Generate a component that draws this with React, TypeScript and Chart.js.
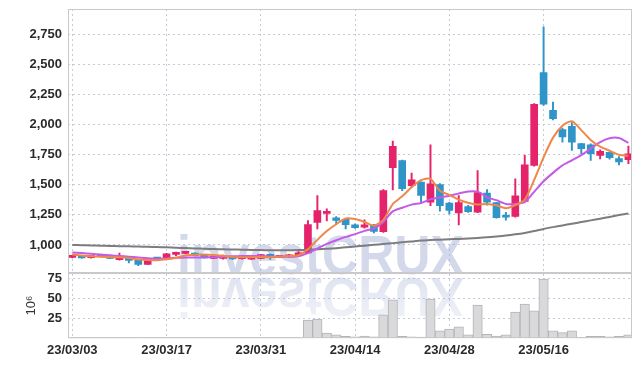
import React, { useEffect, useRef } from 'react';
import { Chart, registerables } from 'chart.js';

Chart.register(...registerables);

const dates = [
  '23/03/03','23/03/06','23/03/07','23/03/08','23/03/09','23/03/10','23/03/13','23/03/14','23/03/15','23/03/16',
  '23/03/17','23/03/20','23/03/21','23/03/22','23/03/23','23/03/24','23/03/27','23/03/28','23/03/29','23/03/30',
  '23/03/31','23/04/03','23/04/04','23/04/05','23/04/06','23/04/07','23/04/10','23/04/11','23/04/12','23/04/13',
  '23/04/14','23/04/17','23/04/18','23/04/19','23/04/20','23/04/21','23/04/24','23/04/25','23/04/26','23/04/27',
  '23/04/28','23/05/02','23/05/03','23/05/04','23/05/08','23/05/09','23/05/10','23/05/11','23/05/12','23/05/15',
  '23/05/16','23/05/17','23/05/18','23/05/19','23/05/22','23/05/23','23/05/24','23/05/25','23/05/26','23/05/30',
];

const opens = [
  897, 900, 895, 906, 905, 877, 892, 877, 838, 892,
  894, 922, 930, 933, 917, 888, 888, 902, 885, 882,
  888, 922, 897, 902, 917, 933, 1188, 1262, 1225, 1213,
  1167, 1147, 1167, 1111, 1642, 1702, 1492, 1522, 1355, 1502,
  1347, 1267, 1319, 1272, 1430, 1352, 1244, 1236, 1361, 1661,
  2433, 2119, 1958, 1986, 1842, 1833, 1744, 1769, 1717, 1708,
];
const highs = [
  910, 903, 910, 908, 907, 933, 895, 880, 882, 895,
  930, 940, 938, 935, 920, 910, 915, 905, 903, 897,
  922, 925, 912, 922, 945, 1202, 1410, 1300, 1235, 1218,
  1175, 1208, 1172, 1460, 1863, 1705, 1597, 1525, 1833, 1510,
  1355, 1411, 1330, 1619, 1460, 1355, 1270, 1550, 1744, 2175,
  2813, 2188, 1972, 2017, 1845, 1840, 1790, 1772, 1735, 1822,
];
const lows = [
  893, 890, 890, 900, 885, 874, 850, 827, 835, 870,
  892, 910, 928, 909, 889, 886, 882, 880, 882, 880,
  885, 880, 895, 898, 915, 930, 1133, 1200, 1175, 1133,
  1138, 1140, 1100, 1105, 1458, 1450, 1480, 1347, 1327, 1280,
  1258, 1167, 1270, 1268, 1330, 1222, 1205, 1230, 1360, 1655,
  2160, 2040, 1855, 1786, 1758, 1702, 1715, 1712, 1665, 1675,
];
const closes = [
  905, 893, 905, 903, 888, 894, 872, 838, 880, 883,
  927, 935, 935, 911, 892, 908, 905, 883, 900, 892,
  919, 897, 908, 917, 930, 1169, 1286, 1272, 1203, 1169,
  1144, 1167, 1113, 1452, 1819, 1467, 1542, 1411, 1508, 1327,
  1286, 1352, 1277, 1436, 1355, 1227, 1230, 1408, 1665, 2169,
  2169, 2050, 1897, 1855, 1800, 1758, 1777, 1725, 1689, 1758,
];

const ma5 = [
  920, 912, 906, 902, 899, 897, 892, 879, 874, 873,
  880, 893, 912, 918, 920, 916, 910, 900, 898, 898,
  900, 898, 903, 907, 914, 964, 1042, 1115, 1172, 1220,
  1215, 1191, 1159, 1209, 1339, 1404, 1479, 1538, 1549, 1451,
  1415, 1377, 1350, 1336, 1341, 1329, 1305, 1331, 1377, 1540,
  1728, 1892, 1990, 2028, 1954, 1872, 1817, 1783, 1750, 1741,
];
const ma10 = [
  938, 932, 926, 920, 914, 908, 902, 896, 890, 886,
  888, 893, 896, 896, 897, 898, 901, 906, 908, 909,
  908, 904, 902, 902, 906, 932, 970, 1009, 1039, 1067,
  1090, 1117, 1137, 1191, 1279, 1309, 1335, 1349, 1379, 1395,
  1409, 1428, 1444, 1443, 1396, 1372, 1341, 1341, 1356, 1441,
  1529, 1599, 1661, 1703, 1747, 1800, 1855, 1887, 1889, 1848,
];
const ma60 = [
  1000, 998, 996, 994, 992, 990, 988, 986, 984, 982,
  980, 977, 974, 971, 968, 966, 964, 962, 960, 958,
  957, 956, 955, 955, 957, 960, 964, 968, 973, 980,
  987, 994, 1001, 1008, 1015, 1022, 1029, 1036, 1040, 1044,
  1047, 1050, 1054, 1058, 1063, 1070, 1078, 1088, 1100, 1115,
  1133, 1148, 1162, 1176, 1190, 1204, 1218, 1233, 1248, 1262,
];

// trading volume, millions of shares
const volumes = [
  0.6, 0.5, 0.4, 0.5, 0.6, 0.7, 0.8, 0.9, 0.7, 0.5,
  0.6, 0.5, 0.4, 0.5, 0.4, 0.4, 0.5, 0.4, 0.3, 0.4,
  0.5, 0.4, 0.3, 0.4, 0.6, 23, 24, 6.5, 4.4, 2.7,
  1.9, 3.0, 1.9, 29.4, 48, 2.7, 1.9, 1.5, 49, 9.4,
  11.5, 14.4, 4.4, 41.5, 5.2, 3.0, 4.4, 33, 42.7, 34.4,
  74, 9.4, 7.3, 9.4, 1.2, 2.7, 2.7, 1.9, 2.7, 4.4,
];

const priceTicks = [1000, 1250, 1500, 1750, 2000, 2250, 2500, 2750];
const volumeTicks = [25, 50, 75];
const dateTickIndexes = [0, 10, 20, 30, 40, 50];
const volumeUnit = '10⁶';
const watermarkText = 'investCRUX';

const UP = '#e5236a';
const DOWN = '#2f95c9';
const FONT = '"Liberation Sans", Arial, sans-serif';
const GRID = '#c6cbdc';

const noPadding = (s: any) => {
  s.paddingTop = 0;
  s.paddingBottom = 0;
  s.paddingLeft = 0;
  s.paddingRight = 0;
};

const watermarkPlugin = {
  id: 'watermark',
  beforeDatasetsDraw(chart: any) {
    const { ctx, chartArea } = chart;
    const py = chart.scales.y;
    ctx.save();
    ctx.font = 'bold 55px "Liberation Sans", Arial, sans-serif';
    ctx.textBaseline = 'alphabetic';
    const w = ctx.measureText(watermarkText).width;
    const sx = 287 / w;
    const x0 = chartArea.left + 109;
    const base = py.bottom + 1;
    ctx.translate(x0, base);
    ctx.scale(sx, 1);
    ctx.fillStyle = 'rgba(150,164,205,0.42)';
    ctx.fillText(watermarkText, 0, 0);
    ctx.translate(0, 4);
    ctx.scale(1, -1);
    const g = ctx.createLinearGradient(0, 0, 0, -48);
    g.addColorStop(0, 'rgba(150,164,205,0.30)');
    g.addColorStop(1, 'rgba(150,164,205,0.12)');
    ctx.fillStyle = g;
    ctx.fillText(watermarkText, 0, 0);
    ctx.restore();
  },
};

const panelBorderPlugin = {
  id: 'panelBorder',
  afterDatasetsDraw(chart: any) {
    const { ctx, chartArea } = chart;
    ctx.save();
    ctx.strokeStyle = '#c9c9cc';
    ctx.lineWidth = 1;
    ['y', 'yv'].forEach((id) => {
      const s = chart.scales[id];
      const l = Math.round(chartArea.left) + 0.5;
      const r = Math.round(chartArea.right) - 0.5;
      const t = Math.round(s.top) + 0.5;
      const b = Math.round(s.bottom) - 0.5;
      ctx.strokeRect(l, t, r - l, b - t);
    });
    ctx.restore();
  },
};

export default function App() {
  const ref = useRef<HTMLCanvasElement | null>(null);

  useEffect(() => {
    if (!ref.current) return;
    const idx = dates.map((_, i) => i);
    const colors = idx.map((i) => (closes[i] >= opens[i] ? UP : DOWN));
    const line = (data: number[], color: string) => ({
      type: 'line' as const,
      data: idx.map((i) => ({ x: i, y: data[i] })),
      borderColor: color,
      borderWidth: 2,
      pointRadius: 0,
      tension: 0.25,
      yAxisID: 'y',
      order: 0,
    });
    const tickFont = { family: FONT, size: 13, weight: 'bold' as const };

    const chart = new Chart(ref.current, {
      type: 'bar',
      data: {
        datasets: [
          line(ma5, '#f0874a'),
          line(ma10, '#c65ae8'),
          line(ma60, '#7d7d7f'),
          {
            type: 'bar',
            data: idx.map((i) => ({ x: i, y: [opens[i], closes[i]] })),
            backgroundColor: colors,
            barThickness: 7,
            minBarLength: 2,
            grouped: false,
            yAxisID: 'y',
            order: 1,
          } as any,
          {
            type: 'bar',
            data: idx.map((i) => ({ x: i, y: [lows[i], highs[i]] })),
            backgroundColor: colors,
            barThickness: 1.3,
            grouped: false,
            yAxisID: 'y',
            order: 2,
          } as any,
          {
            type: 'bar',
            data: idx.map((i) => ({ x: i, y: volumes[i] })),
            backgroundColor: '#d9d9db',
            borderColor: '#b4b4b8',
            borderWidth: 1,
            barPercentage: 1,
            categoryPercentage: 1,
            grouped: false,
            yAxisID: 'yv',
            order: 3,
          } as any,
        ],
      },
      options: {
        animation: false,
        responsive: true,
        maintainAspectRatio: false,
        layout: { padding: { top: 1, right: 2, bottom: 2, left: 0 } },
        plugins: { legend: { display: false }, tooltip: { enabled: false } },
        scales: {
          x: {
            type: 'linear',
            position: 'bottom',
            offset: false,
            min: -0.456,
            max: 59.38,
            afterBuildTicks: (s: any) => {
              s.ticks = dateTickIndexes.map((v) => ({ value: v }));
            },
            afterFit: noPadding,
            ticks: {
              autoSkip: false,
              maxRotation: 0,
              padding: 4,
              color: '#2a2a2a',
              font: tickFont,
              callback: (v: any) => dates[v as number] ?? '',
            },
            grid: { color: GRID, drawTicks: false, offset: false },
            border: { display: false, dash: [2, 3] },
          },
          y: {
            type: 'linear',
            position: 'left',
            stack: 'panels',
            stackWeight: 263,
            weight: 2,
            min: 769,
            max: 2961,
            afterBuildTicks: (s: any) => {
              s.ticks = priceTicks.map((v) => ({ value: v }));
            },
            afterFit: (s: any) => {
              s.width = 60;
              noPadding(s);
            },
            ticks: {
              autoSkip: false,
              padding: 6,
              color: '#2a2a2a',
              font: tickFont,
              callback: (v: any) => Number(v).toLocaleString('en-US'),
            },
            grid: { color: GRID, drawTicks: false },
            border: { display: false, dash: [2, 3] },
          },
          yv: {
            type: 'linear',
            position: 'left',
            stack: 'panels',
            stackWeight: 65.5,
            weight: 1,
            min: 0,
            max: 82,
            afterBuildTicks: (s: any) => {
              s.ticks = volumeTicks.map((v) => ({ value: v }));
            },
            afterFit: (s: any) => {
              s.width = 60;
              noPadding(s);
            },
            title: {
              display: true,
              text: volumeUnit,
              color: '#333',
              font: { family: FONT, size: 13 },
              padding: { top: 16, bottom: 0 },
            },
            ticks: {
              autoSkip: false,
              padding: 6,
              color: '#2a2a2a',
              font: tickFont,
            },
            grid: { color: GRID, drawTicks: false },
            border: { display: false, dash: [2, 3] },
          },
        },
      } as any,
      plugins: [watermarkPlugin, panelBorderPlugin],
    });
    return () => chart.destroy();
  }, []);

  return (
    <div style={{ width: 626, height: 356, position: 'relative' }}>
      <canvas ref={ref} />
    </div>
  );
}
